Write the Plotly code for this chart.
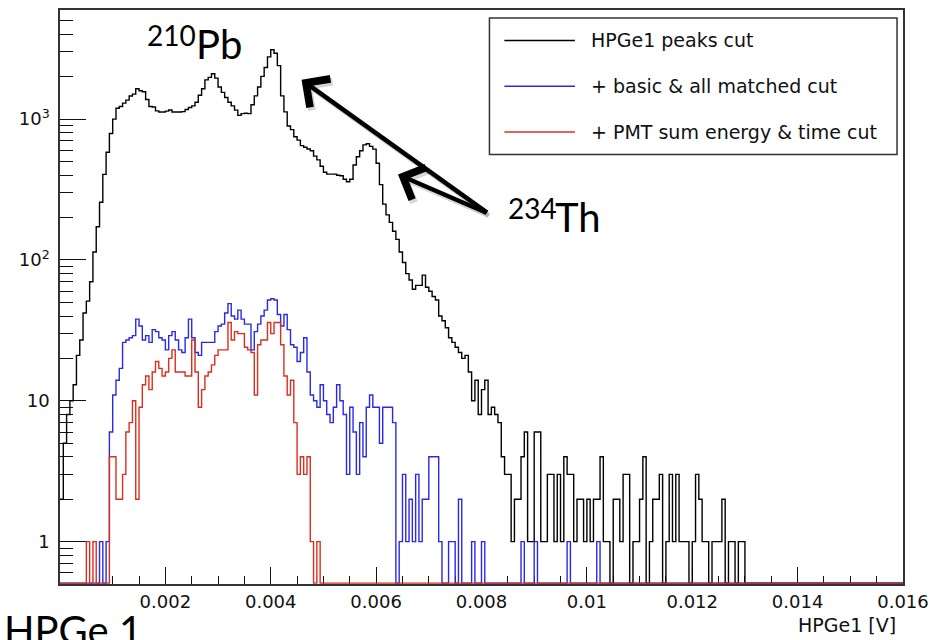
import numpy as np
import plotly.graph_objects as go

# Histogram binning: 256 bins over 0 - 0.016 V
N_BINS = 256
X_MIN, X_MAX = 0.0, 0.016

# Counts per bin (bins not listed are empty)
hpge_peaks_cut = [
    2, 5, 8, 10, 13, 21, 27, 42, 51, 70,
    114, 172, 257, 405, 582, 790, 1000, 1194, 1230, 1300,
    1365, 1460, 1506, 1645, 1590, 1565, 1380, 1230, 1220, 1145,
    1125, 1125, 1140, 1160, 1125, 1125, 1125, 1130, 1170, 1210,
    1243, 1318, 1479, 1645, 1900, 1978, 2098, 1955, 1690, 1550,
    1423, 1318, 1243, 1158, 1063, 1095, 1100, 1095, 1265, 1463,
    1690, 2013, 2328, 2770, 3110, 2940, 2400, 1463, 1126, 894,
    843, 750, 709, 649, 631, 613, 596, 546, 514, 463,
    420, 407, 407, 407, 400, 396, 374, 359, 374, 472,
    540, 596, 657, 668, 641, 612, 486, 343, 249, 209,
    185, 160, 140, 114, 96, 80, 72, 62, 66, 66,
    78, 64, 60, 55, 52, 40, 37, 33, 28, 26,
    24, 22, 20, 21, 16, 10, 14, 8, 12, 14,
    8, 9, 8, 7, 4, 3, 3, 1, 2, 2,
    4, 6, 1, 1, 6, 6, 1, 1, 3, 3,
    1, 3, 1, 4, 3, 3, 1, 2, 2, 1,
    2, 1, 2, 2, 4, 1, 1, 0, 2, 2,
    1, 3, 3, 0, 1, 1, 2, 4, 0, 1,
    2, 2, 3, 0, 1, 3, 1, 3, 1, 1,
    1, 0, 1, 3, 2, 1, 1, 0, 1, 1,
    1, 2, 0, 1, 1, 0, 1, 1,
]

basic_matched_cut = [
    0, 0, 0, 0, 0, 0, 0, 0, 0, 0,
    0, 0, 1, 0, 1, 6, 11, 14, 17, 26,
    27, 28, 29, 38, 34, 27, 29, 26, 32, 31,
    28, 27, 23, 29, 31, 27, 23, 22, 28, 38,
    28, 22, 21, 26, 26, 26, 26, 31, 34, 35,
    42, 49, 40, 38, 44, 38, 35, 35, 23, 31,
    35, 40, 44, 52, 53, 52, 41, 34, 41, 32,
    25, 24, 19, 22, 28, 16, 11, 10, 9, 13,
    10, 8, 7, 9, 13, 10, 8, 3, 9, 6,
    3, 7, 4, 9, 11, 9, 9, 5, 9, 9,
    9, 7, 0, 1, 3, 1, 2, 1, 3, 1,
    2, 2, 4, 4, 4, 1, 0, 0, 1, 1,
    0, 2, 0, 0, 0, 1, 0, 0, 1, 0,
    0, 0, 0, 0, 0, 0, 0, 0, 0, 0,
    1, 0, 0, 0, 1, 0, 0, 0, 0, 0,
    0, 0, 0, 0, 1, 0, 0, 0, 0, 0,
    0, 0, 0, 1,
]

pmt_energy_time_cut = [
    0, 0, 0, 0, 0, 0, 0, 0, 1, 0,
    1, 0, 0, 0, 0, 4, 4, 2, 2, 3,
    6, 7, 10, 2, 9, 13, 15, 12, 16, 19,
    17, 15, 16, 20, 23, 16, 16, 16, 15, 15,
    27, 16, 9, 12, 15, 16, 18, 21, 23, 23,
    23, 36, 27, 31, 30, 30, 24, 23, 22, 11,
    25, 27, 27, 36, 30, 36, 36, 25, 15, 11,
    14, 7, 3, 4, 3, 4, 1, 0, 1,
]

series_names = [
    "HPGe1 peaks cut",
    "+ basic & all matched cut",
    "+ PMT sum energy & time cut",
]
series_colors = ["#000000", "#2a2ae6", "#d8301f"]

x_tick_values = [0.002, 0.004, 0.006, 0.008, 0.010, 0.012, 0.014, 0.016]
x_tick_labels = ["0.002", "0.004", "0.006", "0.008", "0.01", "0.012", "0.014", "0.016"]
y_tick_values = [1, 10, 100, 1000]
y_tick_labels = ["1", "10", "10<sup>2</sup>", "10<sup>3</sup>"]

Y_MIN = 0.5
Y_MAX = 10 ** 3.775
# empty bins are drawn just above the lower frame edge
Y_FLOOR = 10 ** (np.log10(Y_MIN) + 0.006)

edges = np.linspace(X_MIN, X_MAX, N_BINS + 1)


def step_trace(counts, name, color):
    c = np.zeros(N_BINS)
    c[: len(counts)] = counts
    shown = np.where(c > 0, c, Y_FLOOR)
    ys = np.append(shown, shown[-1])
    return go.Scatter(
        x=edges, y=ys, mode="lines", line=dict(shape="hv", color=color, width=1.4),
        name=name, showlegend=False, hoverinfo="skip",
    )


fig = go.Figure()
for counts, name, color in zip(
    [hpge_peaks_cut, basic_matched_cut, pmt_energy_time_cut], series_names, series_colors
):
    fig.add_trace(step_trace(counts, name, color))

W, H = 937, 640
ML, MR, MT, MB = 60, 29, 8, 56
PW, PH = W - ML - MR, H - MT - MB


def px(xp):
    return (xp - ML) / PW


def py(yp):
    return (H - MB - yp) / PH


tick_font = dict(family="DejaVu Sans, Arial, sans-serif", size=18, color="#111")

fig.update_layout(
    width=W, height=H,
    margin=dict(l=ML, r=MR, t=MT, b=MB),
    paper_bgcolor="white", plot_bgcolor="white",
    showlegend=False,
    xaxis=dict(
        range=[X_MIN, X_MAX], showgrid=False, zeroline=False,
        showline=True, linecolor="#333", linewidth=1.5, mirror=True,
        layer="below traces",
        ticks="inside", ticklen=17, tickwidth=1.2, tickcolor="#111",
        tickvals=x_tick_values, ticktext=x_tick_labels,
        tickfont=tick_font, ticklabelstandoff=1,
        minor=dict(ticks="inside", ticklen=8, tickwidth=1.2, tickcolor="#111",
                   tick0=0, dtick=0.0005, showgrid=False),
    ),
    yaxis=dict(
        type="log", range=[np.log10(Y_MIN), np.log10(Y_MAX)],
        showgrid=False, zeroline=False,
        showline=True, linecolor="#333", linewidth=1.5, mirror=True,
        layer="below traces",
        ticks="inside", ticklen=26, tickwidth=1.2, tickcolor="#111",
        tickvals=y_tick_values, ticktext=y_tick_labels,
        tickfont=tick_font, ticklabelstandoff=5,
        minor=dict(ticks="inside", ticklen=13, tickwidth=1.2, tickcolor="#111",
                   dtick="D1", showgrid=False),
    ),
)

# Legend box drawn by hand
shapes = [
    dict(type="rect", xref="paper", yref="paper",
         x0=px(492), x1=px(902), y0=py(153), y1=py(16),
         line=dict(color="#333", width=1.5), fillcolor="white", layer="above"),
]
legend_rows = [38.5, 84.5, 130.5]
annotations = []
for name, color, yr in zip(series_names, series_colors, legend_rows):
    shapes.append(dict(type="line", xref="paper", yref="paper",
                       x0=px(507), x1=px(578), y0=py(yr), y1=py(yr),
                       line=dict(color=color, width=1.5), layer="above"))
    annotations.append(dict(xref="paper", yref="paper", x=px(592), y=py(yr),
                            xanchor="left", yanchor="middle", showarrow=False,
                            text=name, font=dict(family="DejaVu Sans, Arial", size=19, color="#111")))

# Axis title
annotations.append(dict(xref="paper", yref="paper", x=px(903), y=py(625),
                        xanchor="right", yanchor="middle", showarrow=False,
                        text="HPGe1 [V]", font=dict(family="DejaVu Sans, Arial", size=19, color="#111")))

big = "Lato, Open Sans, sans-serif"
# Isotope labels
annotations += [
    dict(xref="paper", yref="paper", x=px(146), y=py(33), xanchor="left", yanchor="middle",
         showarrow=False, text="210", font=dict(family=big, size=28, color="black")),
    dict(xref="paper", yref="paper", x=px(195), y=py(42), xanchor="left", yanchor="middle",
         showarrow=False, text="Pb", font=dict(family=big, size=40, color="black")),
    dict(xref="paper", yref="paper", x=px(509), y=py(207), xanchor="left", yanchor="middle",
         showarrow=False, text="234", font=dict(family=big, size=28, color="black")),
    dict(xref="paper", yref="paper", x=px(556), y=py(216), xanchor="left", yanchor="middle",
         showarrow=False, text="Th", font=dict(family=big, size=40, color="black")),
    dict(xref="paper", yref="paper", x=px(2), y=py(630), xanchor="left", yanchor="middle",
         showarrow=False, text="HPGe 1", font=dict(family=big, size=40, color="black")),
]

# Pointer arrows with a soft drop shadow
tail = (490, 212)
tips = [(303, 78), (400, 173)]
for dx, dy, col in [(2, 3, "rgba(0,0,0,0.16)"), (0, 0, "black")]:
    for tx, ty in tips:
        annotations.append(dict(
            xref="paper", yref="paper", x=px(tx + dx), y=py(ty + dy),
            ax=tail[0] - tx, ay=tail[1] - ty, text="", showarrow=True,
            arrowhead=4, arrowsize=1.5, arrowwidth=4.5, arrowcolor=col, standoff=0,
        ))

fig.update_layout(shapes=shapes, annotations=annotations)
fig.write_html("out.html")
